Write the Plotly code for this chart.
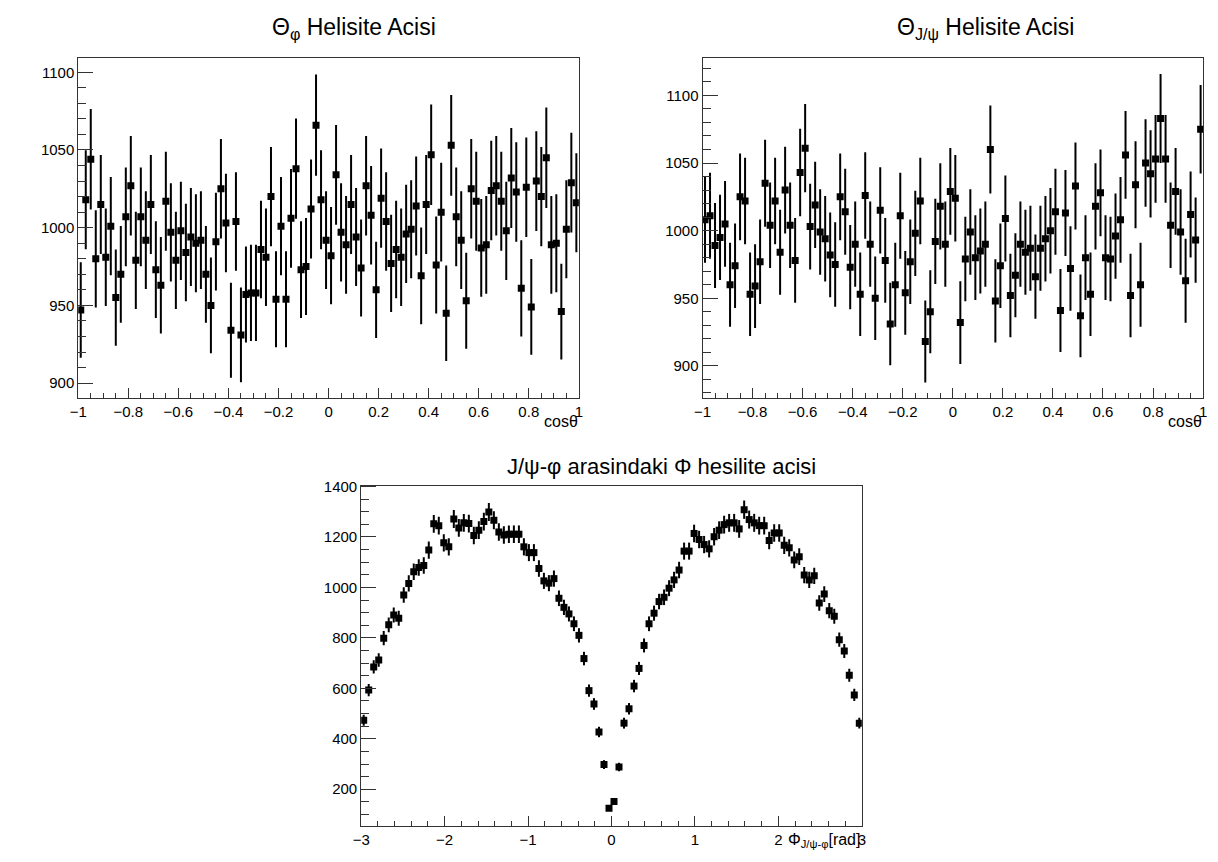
import numpy as np
import plotly.graph_objects as go

# ---------------- data ----------------
# Theta_phi helicity angle: 100 bins on [-1, 1]
cos_phi_counts = [
    947, 1018, 1044, 980, 1015, 981, 1001, 955, 970, 1007,
    1027, 979, 1007, 992, 1015, 973, 963, 1017, 997, 979,
    998, 984, 994, 990, 992, 970, 950, 991, 1025, 1003,
    934, 1004, 931, 957, 958, 958, 986, 981, 1020, 954,
    1001, 954, 1006, 1038, 973, 975, 1012, 1066, 1018, 992,
    982, 1034, 997, 989, 1015, 994, 974, 1027, 1008, 960,
    1019, 1004, 977, 986, 981, 996, 999, 1014, 969, 1015,
    1047, 976, 1010, 945, 1053, 1007, 992, 953, 1025, 1017,
    987, 989, 1024, 1027, 1017, 998, 1032, 1023, 961, 1026,
    949, 1030, 1020, 1045, 989, 990, 946, 999, 1029, 1016,
]
# Theta_J/psi helicity angle: 100 bins on [-1, 1]
cos_jpsi_counts = [
    1008, 1011, 989, 995, 1005, 960, 974, 1025, 1022, 953,
    959, 977, 1035, 1004, 1022, 984, 1030, 1004, 978, 1043,
    1061, 1003, 1019, 999, 994, 982, 975, 1025, 1014, 973,
    990, 953, 1026, 990, 950, 1015, 978, 931, 960, 1011,
    954, 977, 998, 1022, 918, 940, 992, 1018, 990, 1029,
    1024, 932, 979, 999, 980, 985, 990, 1060, 948, 974,
    1009, 952, 967, 990, 984, 987, 966, 987, 994, 1000,
    1014, 941, 1013, 972, 1033, 937, 980, 953, 1018, 1028,
    980, 979, 996, 1008, 1056, 952, 1034, 960, 1050, 1042,
    1053, 1083, 1053, 1004, 1029, 999, 963, 1012, 993, 1075,
]
# Phi angle between J/psi and phi decay planes: 100 bins on [-3, 3]
phi_counts = [
    474, 593, 685, 712, 799, 852, 891, 878, 970, 1016,
    1062, 1079, 1087, 1148, 1252, 1245, 1177, 1161, 1271, 1236,
    1256, 1253, 1206, 1227, 1261, 1299, 1266, 1220, 1208, 1211,
    1211, 1211, 1161, 1138, 1138, 1075, 1026, 1017, 1035, 957,
    921, 895, 856, 810, 718, 591, 538, 427, 298, 125,
    151, 288, 462, 519, 609, 679, 770, 856, 898, 944,
    961, 997, 1030, 1069, 1144, 1144, 1214, 1190, 1170, 1153,
    1201, 1227, 1249, 1256, 1256, 1232, 1308, 1269, 1256, 1245,
    1245, 1186, 1216, 1216, 1167, 1157, 1109, 1122, 1049, 1030,
    1046, 938, 974, 908, 886, 793, 748, 652, 574, 462,
]

cos_range = [-1.0, 1.0]
phi_range = [-3.0, 3.0]

titles = [
    "Θ<sub>φ</sub> Helisite Acisi",
    "Θ<sub>J/ψ</sub> Helisite Acisi",
    "J/ψ-φ arasindaki Φ hesilite acisi",
]
xlabels = ["cosθ", "cosθ", "Φ<sub>J/ψ-φ</sub>[rad]"]


def centers(lo, hi, n):
    edges = np.linspace(lo, hi, n + 1)
    return 0.5 * (edges[:-1] + edges[1:])


# ---------------- figure ----------------
W, H = 1218, 862


def px(x):
    return x / W


def py(y):
    return 1 - y / H


fig = go.Figure()

FONT = "Liberation Sans, Arial, Helvetica, sans-serif"
LINE = "#333333"

panels = [
    dict(counts=cos_phi_counts, rng=cos_range, xa="x", ya="y"),
    dict(counts=cos_jpsi_counts, rng=cos_range, xa="x2", ya="y2"),
    dict(counts=phi_counts, rng=phi_range, xa="x3", ya="y3"),
]

for p in panels:
    c = np.array(p["counts"], dtype=float)
    xs = centers(p["rng"][0], p["rng"][1], len(c))
    fig.add_trace(go.Scatter(
        x=xs, y=c, mode="markers", xaxis=p["xa"], yaxis=p["ya"],
        marker=dict(symbol="square", size=7, color="black"),
        error_y=dict(type="data", array=np.sqrt(c), visible=True,
                     thickness=2, width=0, color="black"),
        showlegend=False, hoverinfo="x+y",
    ))


def axis_common(size):
    return dict(
        showline=True, linecolor=LINE, linewidth=1, mirror=True,
        showgrid=False, zeroline=False, ticks="inside", tickcolor=LINE,
        tickwidth=1, tickfont=dict(family=FONT, size=size, color="black"),
    )


# domains in pixels
tl = dict(x0=70, x1=576, y0=50, y1=393.5)
tr = dict(x0=701, x1=1207, y0=50, y1=394)
bt = dict(x0=356, x1=862, y0=482, y1=826)

fig.update_layout(
    width=W, height=H, autosize=False,
    margin=dict(l=0, r=0, t=0, b=0),
    paper_bgcolor="white", plot_bgcolor="white",
    font=dict(family=FONT, color="black"),
    xaxis=dict(domain=[px(tl["x0"]), px(tl["x1"])], anchor="y",
               range=cos_range, tick0=-1, dtick=0.2, ticklen=10,
               minor=dict(dtick=0.05, ticks="inside", ticklen=5, tickcolor=LINE),
               **axis_common(15)),
    yaxis=dict(domain=[py(tl["y1"]), py(tl["y0"])], anchor="x",
               range=[890.5, 1109.5], tick0=0, dtick=50, ticklen=15,
               minor=dict(dtick=10, ticks="inside", ticklen=8, tickcolor=LINE),
               **axis_common(15)),
    xaxis2=dict(domain=[px(tr["x0"]), px(tr["x1"])], anchor="y2",
                range=cos_range, tick0=-1, dtick=0.2, ticklen=10,
                minor=dict(dtick=0.05, ticks="inside", ticklen=5, tickcolor=LINE),
                **axis_common(15)),
    yaxis2=dict(domain=[py(tr["y1"]), py(tr["y0"])], anchor="x2",
                range=[876, 1128], tick0=0, dtick=50, ticklen=15,
                minor=dict(dtick=10, ticks="inside", ticklen=8, tickcolor=LINE),
                **axis_common(15)),
    xaxis3=dict(domain=[px(bt["x0"]), px(bt["x1"])], anchor="y3",
                range=phi_range, tick0=0, dtick=1, ticklen=10,
                minor=dict(dtick=0.2, ticks="inside", ticklen=5, tickcolor=LINE),
                **axis_common(15)),
    yaxis3=dict(domain=[py(bt["y1"]), py(bt["y0"])], anchor="x3",
                range=[53, 1404], tick0=0, dtick=200, ticklen=15,
                minor=dict(dtick=50, ticks="inside", ticklen=8, tickcolor=LINE),
                **axis_common(15)),
)

# titles
title_pos = [(349, 21, 23), (987, 21, 23), (660, 463, 22)]
for t, (x, y, s) in zip(titles, title_pos):
    fig.add_annotation(text=t, x=px(x), y=py(y), xref="paper", yref="paper",
                       showarrow=False, xanchor="center", yanchor="middle",
                       font=dict(family=FONT, size=s, color="black"))

# x-axis labels (right aligned at axis end)
label_pos = [(577, 417), (1208, 417), (862, 840)]
for t, (x, y) in zip(xlabels, label_pos):
    fig.add_annotation(text=t, x=px(x), y=py(y), xref="paper", yref="paper",
                       showarrow=False, xanchor="right", yanchor="middle",
                       font=dict(family=FONT, size=16, color="black"))

fig.write_html("out.html")
